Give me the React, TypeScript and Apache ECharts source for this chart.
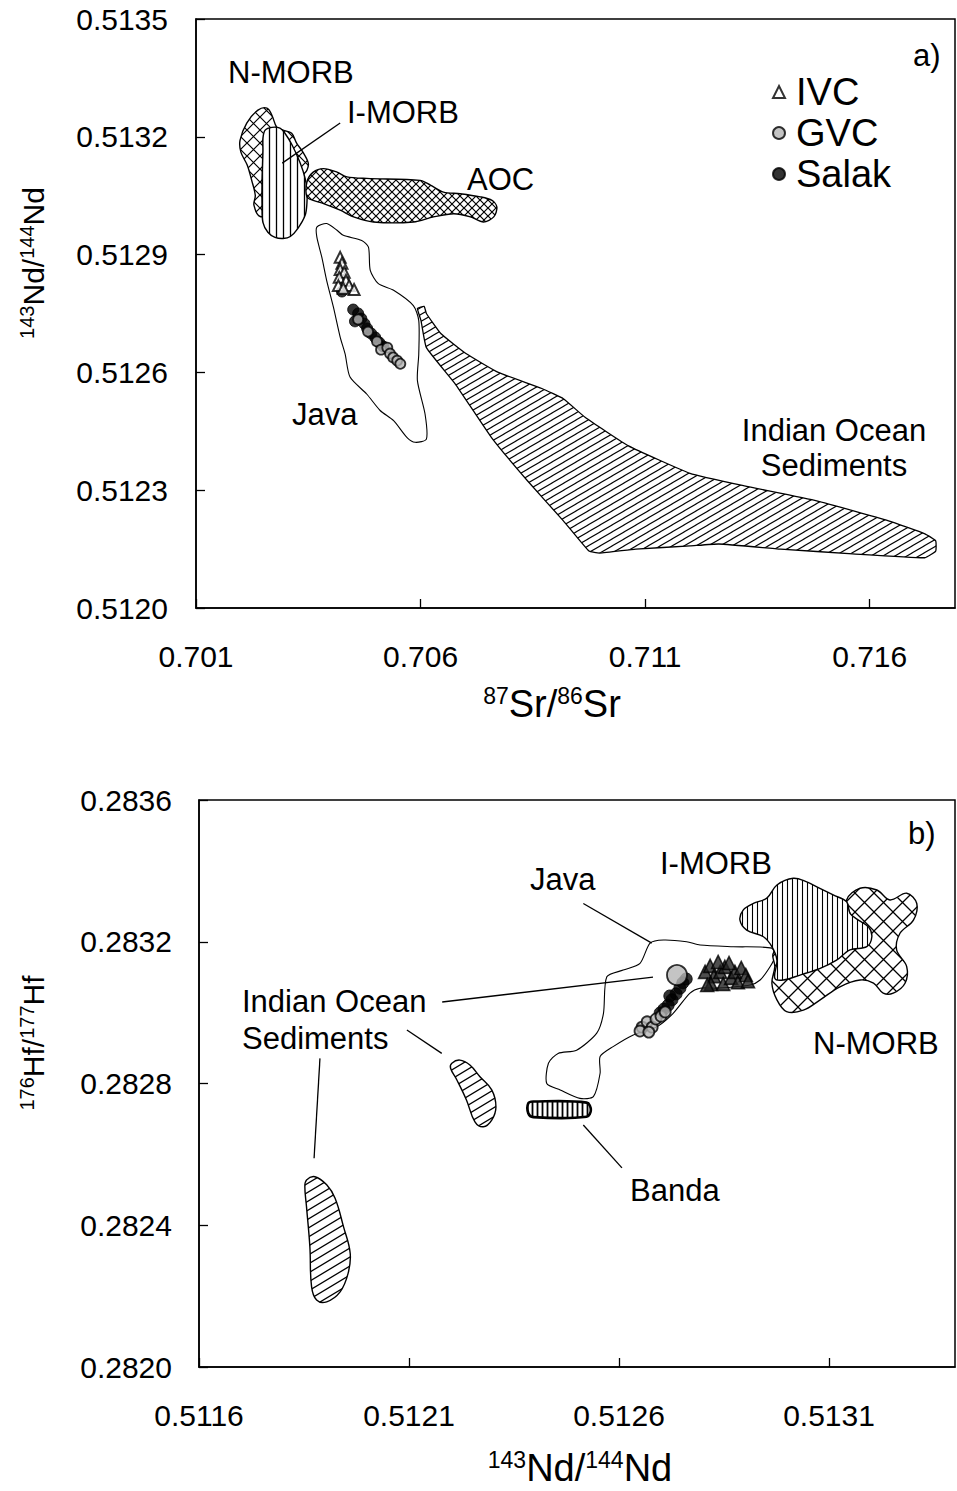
import React, { useEffect, useRef } from "react";
import * as echarts from "echarts";

const FONT = '"Liberation Sans", Arial, Helvetica, sans-serif';

// ---------- axes ----------
const aXMin = 0.701, aXMax = 0.7179, aXStep = 0.005;
const aYMin = 0.512, aYMax = 0.5135, aYStep = 0.0003;
const bXMin = 0.5116, bXMax = 0.5134, bXStep = 0.0005;
const bYMin = 0.282, bYMax = 0.2836, bYStep = 0.0004;

// ---------- panel a) fields : [87Sr/86Sr, 143Nd/144Nd] ----------
const aNMORB = [
  [0.70198, 0.513191], [0.70213, 0.513235], [0.70238, 0.513268], [0.70258, 0.513273],
  [0.70269, 0.513255], [0.7028, 0.513224], [0.70294, 0.513217], [0.70313, 0.513209],
  [0.70324, 0.513184], [0.70338, 0.513161], [0.7035, 0.513133], [0.70347, 0.513115],
  [0.70336, 0.513097], [0.70343, 0.513077], [0.70332, 0.513038], [0.7031, 0.513018],
  [0.70276, 0.513008], [0.70243, 0.512997], [0.70229, 0.513026], [0.70232, 0.513051],
  [0.70224, 0.513089], [0.70214, 0.513128], [0.702, 0.513161],
];
const aIMORB = [
  [0.70254, 0.513217], [0.70269, 0.513224], [0.70287, 0.513222], [0.70298, 0.513209],
  [0.70314, 0.513179], [0.70332, 0.513133], [0.70343, 0.513094], [0.70347, 0.513064],
  [0.70347, 0.513031], [0.70343, 0.513], [0.70327, 0.512967], [0.7031, 0.512946],
  [0.70294, 0.512941], [0.70276, 0.512944], [0.7026, 0.512957], [0.70249, 0.512982],
  [0.70247, 0.513026], [0.70247, 0.513089], [0.70249, 0.513166], [0.70249, 0.513196],
];
const aAOC = [
  [0.70347, 0.513085], [0.70361, 0.51311], [0.70384, 0.513119], [0.70414, 0.51311],
  [0.70436, 0.513098], [0.7048, 0.513094], [0.70599, 0.513089], [0.70622, 0.513077],
  [0.70651, 0.513059], [0.70688, 0.513055], [0.70733, 0.513047], [0.70759, 0.513038],
  [0.7077, 0.513021], [0.70763, 0.512996], [0.7074, 0.512983], [0.70711, 0.512996],
  [0.70674, 0.513004], [0.70629, 0.512996], [0.70584, 0.512983], [0.70495, 0.512983],
  [0.70451, 0.512996], [0.70421, 0.513013], [0.70384, 0.51303], [0.70361, 0.513038],
  [0.70347, 0.513047],
];
const aJava = [
  [0.70369, 0.51297], [0.70391, 0.512979], [0.70414, 0.512962], [0.70428, 0.512949],
  [0.70469, 0.512936], [0.70484, 0.512919], [0.70488, 0.51286], [0.70506, 0.512826],
  [0.7054, 0.512809], [0.70584, 0.51277], [0.70596, 0.512732], [0.70596, 0.512647],
  [0.70593, 0.512579], [0.7061, 0.512494], [0.70613, 0.51243], [0.70588, 0.512422],
  [0.7057, 0.512434], [0.7054, 0.512477], [0.7051, 0.512503], [0.7048, 0.512545],
  [0.70443, 0.512588], [0.70432, 0.512647], [0.70421, 0.51269], [0.70406, 0.512766],
  [0.70391, 0.512834], [0.7038, 0.512894], [0.70369, 0.512945],
];
const aIOS = [
  [0.70593, 0.512763], [0.70608, 0.512768], [0.70613, 0.51275], [0.70645, 0.512699],
  [0.70701, 0.512648], [0.70773, 0.5126], [0.7087, 0.512559], [0.70918, 0.512533],
  [0.70967, 0.512485], [0.71063, 0.512413], [0.712, 0.512343], [0.71321, 0.512311],
  [0.71482, 0.512273], [0.71642, 0.512222], [0.71723, 0.512189], [0.71747, 0.512171],
  [0.71747, 0.512145], [0.71723, 0.512128], [0.71562, 0.512138], [0.71402, 0.51215],
  [0.71264, 0.512163], [0.712, 0.512158], [0.71079, 0.51215], [0.70999, 0.51214],
  [0.70975, 0.512145], [0.70918, 0.512222], [0.70838, 0.512324], [0.70758, 0.512434],
  [0.70677, 0.512571], [0.70613, 0.512663], [0.70601, 0.512732],
];
const aLeaders = [[0.70421, 0.513235, 0.70292, 0.513133]];

// ---------- panel a) samples ----------
const aIVC = [
  [0.70421, 0.512893], [0.70425, 0.512878], [0.70421, 0.512862], [0.7043, 0.512855],
  [0.70419, 0.512842], [0.70434, 0.512834], [0.70441, 0.512821], [0.70452, 0.512811],
  [0.70417, 0.512821], [0.70428, 0.512814],
];
const aSalak = [
  [0.70425, 0.512806], [0.7045, 0.51276], [0.70461, 0.51275], [0.70468, 0.512737],
  [0.70454, 0.51273], [0.70475, 0.512724], [0.70481, 0.512712], [0.7049, 0.512699],
  [0.70499, 0.512689], [0.70508, 0.512676], [0.70517, 0.512666],
];
const aGVC = [
  [0.70461, 0.512735], [0.70483, 0.512704], [0.70503, 0.512679], [0.70512, 0.512658],
  [0.70526, 0.512663], [0.70532, 0.512648], [0.70539, 0.512638], [0.70548, 0.51263],
  [0.70555, 0.512622],
];

// ---------- panel b) fields : [143Nd/144Nd, 176Hf/177Hf] ----------
const bNMORB = [
  [0.513142, 0.283318], [0.513174, 0.283351], [0.513214, 0.283346], [0.513245, 0.283318],
  [0.513285, 0.283337], [0.513309, 0.283308], [0.513301, 0.283261], [0.513269, 0.283224],
  [0.513261, 0.283177], [0.513285, 0.28313], [0.513281, 0.283083], [0.513253, 0.283055],
  [0.513229, 0.283055], [0.513206, 0.283083], [0.513174, 0.283092], [0.513126, 0.283073],
  [0.513079, 0.283036], [0.513039, 0.283007], [0.512999, 0.283003], [0.512976, 0.283036],
  [0.512964, 0.283083], [0.512971, 0.28313], [0.512967, 0.283167], [0.512995, 0.283191],
  [0.513079, 0.283219], [0.51315, 0.283261],
];
const bIMORB = [
  [0.512896, 0.28329], [0.51292, 0.283308], [0.512952, 0.283323], [0.512976, 0.28336],
  [0.513015, 0.283379], [0.513047, 0.283369], [0.513071, 0.283355], [0.51311, 0.283332],
  [0.513142, 0.283313], [0.51315, 0.28328], [0.51317, 0.283261], [0.513194, 0.283242],
  [0.513202, 0.283214], [0.51319, 0.283186], [0.51315, 0.283177], [0.513118, 0.283148],
  [0.513079, 0.283125], [0.513031, 0.283106], [0.512991, 0.283092], [0.512971, 0.283097],
  [0.512976, 0.283148], [0.512964, 0.283186], [0.512944, 0.283214], [0.512904, 0.283233],
  [0.512888, 0.283261],
];
const bJava = [
  [0.512674, 0.283196], [0.512706, 0.283205], [0.512761, 0.2832], [0.512793, 0.283191],
  [0.512872, 0.283186], [0.512964, 0.283182], [0.512971, 0.283158], [0.51296, 0.28313],
  [0.512936, 0.283092], [0.512912, 0.283078], [0.512833, 0.283069], [0.512793, 0.283069],
  [0.512769, 0.283055], [0.512729, 0.282998], [0.51269, 0.28296], [0.512634, 0.282937],
  [0.512586, 0.282904], [0.512555, 0.282876], [0.512555, 0.282829], [0.512539, 0.282763],
  [0.512507, 0.282758], [0.51246, 0.282782], [0.512428, 0.2828], [0.512432, 0.282857],
  [0.512455, 0.282885], [0.512499, 0.282894], [0.512547, 0.282942], [0.512563, 0.282998],
  [0.512571, 0.283101], [0.51261, 0.28312], [0.51265, 0.283139],
];
const bIOS1 = [
  [0.512202, 0.282857], [0.512221, 0.282866], [0.512245, 0.282852], [0.512269, 0.282819],
  [0.512297, 0.282782], [0.512307, 0.282734], [0.512297, 0.282697], [0.512277, 0.282678],
  [0.512257, 0.282692], [0.512237, 0.282753], [0.512214, 0.28281], [0.512199, 0.282843],
];
const bIOS2 = [
  [0.511856, 0.282528], [0.511876, 0.282537], [0.511904, 0.282514], [0.511924, 0.282476],
  [0.511944, 0.282396], [0.51196, 0.282321], [0.511955, 0.282264], [0.511936, 0.282212],
  [0.511904, 0.282184], [0.51188, 0.282189], [0.511868, 0.282227], [0.511864, 0.282339],
  [0.511856, 0.282452], [0.511852, 0.282509],
];
const bBanda = [
  [0.512384, 0.282744], [0.512396, 0.282749], [0.512523, 0.282746], [0.512533, 0.282725],
  [0.512523, 0.282706], [0.512396, 0.282705], [0.512384, 0.282716],
];
const bLeaders = [
  [0.512515, 0.283308, 0.512678, 0.283196],
  [0.512179, 0.28303, 0.512681, 0.2831],
  [0.512095, 0.282951, 0.512178, 0.282885],
  [0.511888, 0.282871, 0.511874, 0.282589],
  [0.512515, 0.282683, 0.512607, 0.282562],
];

// ---------- panel b) samples ----------
const bIVC = [
  [0.512805, 0.283115], [0.512817, 0.283132], [0.512826, 0.283103], [0.512819, 0.283081],
  [0.512841, 0.283115], [0.512852, 0.283129], [0.512848, 0.283081], [0.512867, 0.283098],
  [0.512876, 0.283115], [0.512891, 0.283126], [0.512902, 0.283106], [0.512883, 0.283086],
  [0.512836, 0.283143], [0.512862, 0.28314], [0.512907, 0.283089], [0.51281, 0.283078],
];
const bSalak = [
  [0.51276, 0.283095], [0.512752, 0.283084], [0.512745, 0.283069], [0.512736, 0.283053],
  [0.512726, 0.283036], [0.512717, 0.283021], [0.512707, 0.28301], [0.512698, 0.282999],
  [0.512721, 0.283047],
];
const bGVC = [
  [0.512738, 0.283106], [0.512655, 0.282959], [0.512667, 0.282974], [0.512679, 0.282959],
  [0.512688, 0.282982], [0.5127, 0.28299], [0.51271, 0.283002], [0.51265, 0.282948],
  [0.512671, 0.282945],
];

// ---------- hatch patterns ----------
function tile(w: number, h: number, body: string) {
  const svg = `<svg xmlns="http://www.w3.org/2000/svg" width="${w}" height="${h}"><rect width="${w}" height="${h}" fill="white"/>${body}</svg>`;
  return {
    image: "data:image/svg+xml;charset=utf-8," + encodeURIComponent(svg),
    repeat: "repeat",
    imageWidth: w,
    imageHeight: h,
  };
}
function diag(w: number, h: number, sw: number) {
  let d = "";
  for (const off of [-h, 0, h]) {
    d += `M${-1},${h + off + h / w} L${w + 1},${off - h / w} `;
  }
  return tile(w, h, `<path d="${d}" stroke="black" stroke-width="${sw}" fill="none"/>`);
}
function cross(s: number, sw: number) {
  const d = `M-1,-1 L${s + 1},${s + 1} M-1,${s + 1} L${s + 1},-1`;
  return tile(s, s, `<path d="${d}" stroke="black" stroke-width="${sw}" fill="none"/>`);
}
function vert(s: number, sw: number) {
  return tile(s, s, `<path d="M${s / 2},-1 L${s / 2},${s + 1}" stroke="black" stroke-width="${sw}" fill="none"/>`);
}

const P = {
  iosA: diag(12, 7, 1.1),
  iosB: diag(15, 9, 1.3),
  aoc: cross(8, 1.2),
  nmA: cross(13, 1.2),
  nmB: cross(19, 1.3),
  vA: vert(7, 1.3),
  vB: vert(5, 1.1),
  banda: vert(5, 1.8),
};

function field(name: string, data: number[][], gi: number, fill: any, lw: number, smooth: number) {
  return {
    type: "custom",
    name,
    xAxisIndex: gi,
    yAxisIndex: gi,
    silent: true,
    data,
    renderItem: (params: any, api: any) => {
      if (params.dataIndex !== 0) return null;
      const pts = data.map((p) => api.coord(p));
      return {
        type: "polygon",
        shape: { points: pts, smooth },
        style: { fill, stroke: "#000", lineWidth: lw },
      };
    },
  };
}
function leaders(data: number[][], gi: number) {
  return {
    type: "custom",
    name: "leaders" + gi,
    xAxisIndex: gi,
    yAxisIndex: gi,
    silent: true,
    data,
    encode: { x: [0, 2], y: [1, 3] },
    renderItem: (params: any, api: any) => {
      const a = api.coord([api.value(0), api.value(1)]);
      const b = api.coord([api.value(2), api.value(3)]);
      return {
        type: "line",
        shape: { x1: a[0], y1: a[1], x2: b[0], y2: b[1] },
        style: { stroke: "#000", lineWidth: 1.3 },
      };
    },
  };
}

const ivcStyle = { color: "#fff", borderColor: "#000", borderWidth: 2 };
const gvcStyle = { color: "#b5b5b5", borderColor: "#000", borderWidth: 1.8 };
const salakStyle = { color: "#000", borderColor: "#000", borderWidth: 1 };

function axisCommon(fmt: number, margin: number, showMax: boolean) {
  return {
    type: "value",
    axisLine: { show: true, lineStyle: { color: "#000", width: 1.5 } },
    axisTick: { show: true, inside: true, length: 9, lineStyle: { color: "#000", width: 1.3 } },
    splitLine: { show: false },
    axisLabel: {
      color: "#000",
      fontSize: 30,
      fontFamily: FONT,
      margin,
      showMaxLabel: showMax,
      showMinLabel: true,
      formatter: (v: number) => v.toFixed(fmt),
    },
  };
}

function label(text: string, x: number, y: number, align = "left", size = 31) {
  return {
    type: "text",
    x,
    y,
    silent: true,
    style: { text, fontSize: size, fontFamily: FONT, fill: "#000", align, verticalAlign: "middle" },
  };
}
function title(parts: [string, string][], x: number, y: number, big: number, small: number, rot = 0) {
  const text = parts.map(([k, t]) => `{${k}|${t}}`).join("");
  return {
    type: "text",
    x,
    y,
    rotation: rot,
    silent: true,
    style: {
      text,
      align: "center",
      verticalAlign: "middle",
      rich: {
        m: { fontSize: big, fontFamily: FONT, fill: "#000", lineHeight: big + 2 },
        s: { fontSize: small, fontFamily: FONT, fill: "#000", lineHeight: small, verticalAlign: "top" },
      },
    },
  };
}

export default function App() {
  const ref = useRef<HTMLDivElement>(null);
  useEffect(() => {
    if (!ref.current) return;
    const chart = echarts.init(ref.current, null, { renderer: "svg" });
    const option: any = {
      animation: false,
      backgroundColor: "#fff",
      grid: [
        { left: 196, top: 19, width: 759, height: 589, show: true, borderColor: "#000", borderWidth: 1.5 },
        { left: 199, top: 800, width: 756, height: 567, show: true, borderColor: "#000", borderWidth: 1.5 },
      ],
      xAxis: [
        { ...axisCommon(3, 33, false), gridIndex: 0, min: aXMin, max: aXMax, interval: aXStep },
        { ...axisCommon(4, 33, false), gridIndex: 1, min: bXMin, max: bXMax, interval: bXStep },
      ],
      yAxis: [
        { ...axisCommon(4, 28, true), gridIndex: 0, min: aYMin, max: aYMax, interval: aYStep },
        { ...axisCommon(4, 27, true), gridIndex: 1, min: bYMin, max: bYMax, interval: bYStep },
      ],
      legend: {
        data: ["IVC", "GVC", "Salak"],
        orient: "vertical",
        left: 767,
        top: 68,
        itemWidth: 12,
        itemHeight: 12,
        itemGap: 3,
        selectedMode: false,
        textStyle: { fontSize: 38, fontFamily: FONT, color: "#000", padding: [0, 0, 0, 6] },
      },
      series: [
        field("N-MORB a", aNMORB, 0, P.nmA, 1.4, 0.35),
        field("I-MORB a", aIMORB, 0, P.vA, 1.4, 0.35),
        field("AOC", aAOC, 0, P.aoc, 1.4, 0.3),
        field("Java a", aJava, 0, "rgba(255,255,255,0)", 1.1, 0.25),
        field("IOS a", aIOS, 0, P.iosA, 1.3, 0.12),
        leaders(aLeaders, 0),
        { type: "scatter", name: "Salak", xAxisIndex: 0, yAxisIndex: 0, data: aSalak, symbol: "circle", symbolSize: 11, itemStyle: salakStyle },
        { type: "scatter", name: "GVC", xAxisIndex: 0, yAxisIndex: 0, data: aGVC, symbol: "circle", symbolSize: 10, itemStyle: gvcStyle },
        { type: "scatter", name: "IVC", xAxisIndex: 0, yAxisIndex: 0, data: aIVC, symbol: "triangle", symbolSize: 11, itemStyle: ivcStyle },

        field("Java b", bJava, 1, "rgba(255,255,255,0)", 1.1, 0.25),
        field("N-MORB b", bNMORB, 1, P.nmB, 1.4, 0.35),
        field("I-MORB b", bIMORB, 1, P.vB, 1.4, 0.35),
        field("Banda", bBanda, 1, P.banda, 2.6, 0.35),
        field("IOS b1", bIOS1, 1, P.iosB, 1.4, 0.4),
        field("IOS b2", bIOS2, 1, P.iosB, 1.4, 0.4),
        leaders(bLeaders, 1),
        { type: "scatter", name: "Salak", xAxisIndex: 1, yAxisIndex: 1, data: bSalak, symbol: "circle", symbolSize: 12, itemStyle: salakStyle },
        {
          type: "scatter", name: "GVC", xAxisIndex: 1, yAxisIndex: 1, data: bGVC, symbol: "circle",
          symbolSize: (_v: any, p: any) => (p.dataIndex === 0 ? 20 : 11), itemStyle: gvcStyle,
        },
        { type: "scatter", name: "IVC", xAxisIndex: 1, yAxisIndex: 1, data: bIVC, symbol: "triangle", symbolSize: 13, itemStyle: { color: "#222", borderColor: "#000", borderWidth: 1.6 } },
      ],
      graphic: [
        label("a)", 913, 55),
        label("N-MORB", 228, 72),
        label("I-MORB", 347, 112),
        label("AOC", 467, 179),
        label("Java", 292, 414),
        label("Indian Ocean", 834, 430, "center"),
        label("Sediments", 834, 465, "center"),
        label("b)", 908, 833),
        label("I-MORB", 660, 863),
        label("Java", 530, 879),
        label("N-MORB", 813, 1043),
        label("Indian Ocean", 242, 1001),
        label("Sediments", 242, 1038),
        label("Banda", 630, 1190),
        title([["s", "87"], ["m", "Sr/"], ["s", "86"], ["m", "Sr"]], 552, 704, 38, 23),
        title([["s", "143"], ["m", "Nd/"], ["s", "144"], ["m", "Nd"]], 580, 1468, 38, 23),
        title([["s", "143"], ["m", "Nd/"], ["s", "144"], ["m", "Nd"]], 33, 263, 30, 20, Math.PI / 2),
        title([["s", "176"], ["m", "Hf/"], ["s", "177"], ["m", "Hf"]], 33, 1043, 30, 20, Math.PI / 2),
      ],
    };
    chart.setOption(option);
    return () => chart.dispose();
  }, []);
  return <div ref={ref} style={{ position: "absolute", left: 0, top: 0, width: 957, height: 1491 }} />;
}
